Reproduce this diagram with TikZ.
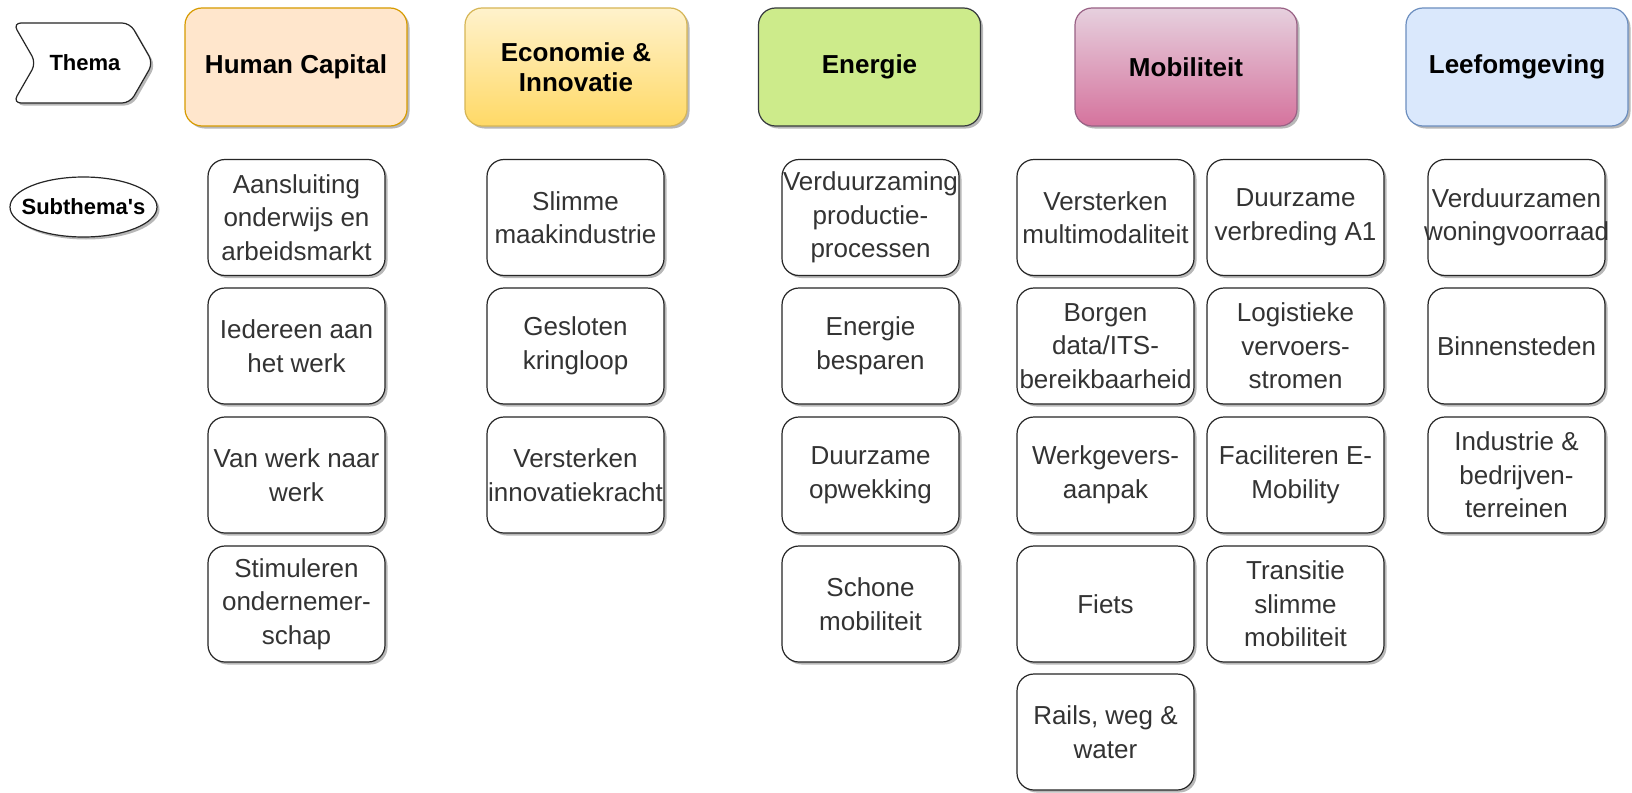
\documentclass[tikz,border=0pt]{standalone}
\usepackage{fontspec}
\setmainfont{Liberation Sans}
\newfontfamily\rawfont{Liberation Sans}[Ligatures=TeXOff]
\usetikzlibrary{shapes.geometric,shadows}
\definecolor{hcfill}{HTML}{FFE6CC}\definecolor{hcdraw}{HTML}{D79B00}
\definecolor{eitop}{HTML}{FFF2CC}\definecolor{eibot}{HTML}{FFD966}\definecolor{eidraw}{HTML}{D6B656}
\definecolor{enfill}{HTML}{CDEB8B}\definecolor{endraw}{HTML}{36393D}
\definecolor{motop}{HTML}{E6D0DE}\definecolor{mobot}{HTML}{D5739D}\definecolor{modraw}{HTML}{996185}
\definecolor{lefill}{HTML}{DAE8FC}\definecolor{ledraw}{HTML}{6C8EBF}
\newcommand\mysub[4]{%
  \node[sub] (#1) at (#2,#3) {};
  \node[subtxt] (#1t) at (#1.center) {#4};}
\begin{document}
\begin{tikzpicture}[x=1pt,y=1pt,
  shd/.style={drop shadow={shadow xshift=2.5pt,shadow yshift=-2.5pt,opacity=0.28,fill=black}},
  hdr/.style={shd, rounded corners=17, minimum width=222, minimum height=118, inner sep=0,
    line width=1.2, align=center, font=\bfseries\fontsize{26}{30}\selectfont},
  sub/.style={shd, draw=black!85, fill=white, rounded corners=17, minimum width=177,
    minimum height=116, inner sep=0, line width=1.2},
  subtxt/.style={align=center, text=black!80, font=\fontsize{26}{33.5}\selectfont, inner sep=0},
  side/.style={font=\rawfont\bfseries\fontsize{22}{26}\selectfont, inner sep=0},
]
\fill[white] (0,0) rectangle (1632,-792);
\useasboundingbox (0,0) rectangle (1632,-792);

% legend shapes
\draw[shd, fill=white, draw=black!85, line width=1.2, rounded corners=8]
  (13,-23) -- (130,-23) -- (153,-63) -- (130,-103) -- (13,-103) -- (36,-63) -- cycle;
\node[side] (thema) at (85,-63) {Thema};
\node[shd, ellipse, draw=black!85, fill=white, line width=1.2, minimum width=147, minimum height=60, inner sep=0] (subthema) at (83.5,-207) {};
\node[side] (subthemat) at (subthema.center) {Subthema's};

% headers
\node[hdr, fill=hcfill, draw=hcdraw] (hc) at (296,-67) {Human Capital};
\node[hdr, top color=eitop, bottom color=eibot, draw=eidraw] (ei) at (576,-67) {Economie \&\\Innovatie};
\node[hdr, fill=enfill, draw=endraw] (en) at (869.5,-67) {Energie};
\node[hdr, top color=motop, bottom color=mobot, draw=modraw] (mo) at (1186,-67) {Mobiliteit};
\node[hdr, fill=lefill, draw=ledraw] (le) at (1517,-67) {Leefomgeving};

% Human Capital
\mysub{hc1}{296.5}{-217.5}{Aansluiting\\onderwijs en\\arbeidsmarkt}
\mysub{hc2}{296.5}{-346}{Iedereen aan\\het werk}
\mysub{hc3}{296.5}{-475}{Van werk naar\\werk}
\mysub{hc4}{296.5}{-604}{Stimuleren\\ondernemer-\\schap}
% Economie & Innovatie
\mysub{ei1}{575.5}{-217.5}{Slimme\\maakindustrie}
\mysub{ei2}{575.5}{-346}{Gesloten\\kringloop}
\mysub{ei3}{575.5}{-475}{Versterken\\innovatiekracht}
% Energie
\mysub{en1}{870.5}{-217.5}{Verduurzaming\\productie-\\processen}
\mysub{en2}{870.5}{-346}{Energie\\besparen}
\mysub{en3}{870.5}{-475}{Duurzame\\opwekking}
\mysub{en4}{870.5}{-604}{Schone\\mobiliteit}
% Mobiliteit
\mysub{mo1}{1105.5}{-217.5}{Versterken\\multimodaliteit}
\mysub{mo2}{1105.5}{-346}{Borgen\\data/ITS-\\bereikbaarheid}
\mysub{mo3}{1105.5}{-475}{Werkgevers-\\aanpak}
\mysub{mo4}{1105.5}{-604}{Fiets}
\mysub{mo5}{1105.5}{-732}{Rails, weg \&\\water}
\mysub{mo6}{1295.5}{-217.5}{Duurzame\\verbreding A1}
\mysub{mo7}{1295.5}{-346}{Logistieke\\vervoers-\\stromen}
\mysub{mo8}{1295.5}{-475}{Faciliteren E-\\Mobility}
\mysub{mo9}{1295.5}{-604}{Transitie\\slimme\\mobiliteit}
% Leefomgeving
\mysub{le1}{1516.5}{-217.5}{Verduurzamen\\woningvoorraad}
\mysub{le2}{1516.5}{-346}{Binnensteden}
\mysub{le3}{1516.5}{-475}{Industrie \&\\bedrijven-\\terreinen}
\end{tikzpicture}
\end{document}
